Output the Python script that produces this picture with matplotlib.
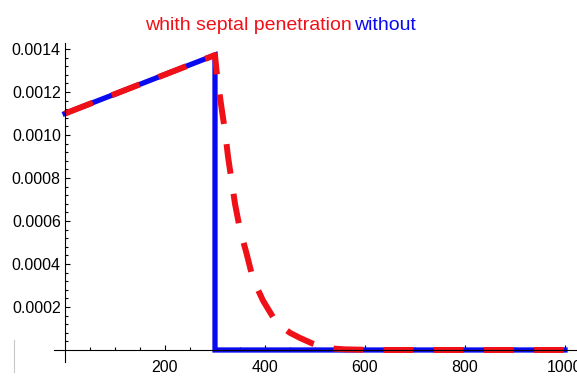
import matplotlib
matplotlib.use('Agg')
import matplotlib.pyplot as plt
from matplotlib.lines import Line2D
from matplotlib.ticker import FixedLocator

plt.rcParams['font.family'] = ['Liberation Sans', 'DejaVu Sans']

# "without" curve: linear rise, sharp cut at 300
x_without = [0, 300, 300, 1000]
y_without = [0.00110, 0.001372, 0.0, 0.0]

# "whith septal penetration" curve: same rise, smooth tail after 300
x_with = [0, 300, 303, 307, 311, 316, 320, 326, 333, 340, 350, 363, 376,
          396, 423, 450, 470, 495, 516, 540, 560, 620, 700, 800, 900, 1000]
y_with = [0.00110, 0.001372, 0.00130, 0.00123, 0.00116, 0.00108, 0.00102,
          0.00090, 0.00079, 0.00068, 0.00056, 0.00045, 0.00033, 0.00023,
          0.000126, 0.000080, 0.000056, 0.000030, 0.000014, 0.000006,
          0.000003, 0.0, 0.0, 0.0, 0.0, 0.0]

x_ticks = [200, 400, 600, 800, 1000]
x_tick_labels = ['200', '400', '600', '800', '1000']
y_ticks = [0.0002, 0.0004, 0.0006, 0.0008, 0.0010, 0.0012, 0.0014]
y_tick_labels = ['0.0002', '0.0004', '0.0006', '0.0008', '0.0010', '0.0012', '0.0014']

fig = plt.figure(figsize=(5.77, 3.77), dpi=100)
ax = fig.add_axes([0, 0, 1, 1])
ax.set_xlim(-130, 1024)
ax.set_ylim(-0.0001256, 0.001628)

ax.plot(x_without, y_without, color='#0a0af0', lw=3.8, solid_joinstyle='miter')
ax.plot(x_with, y_with, color='#f01018', lw=4.3, dashes=(5.0, 3.4))

for s in ['top', 'right']:
    ax.spines[s].set_visible(False)
ax.spines['left'].set_position(('data', 0))
ax.spines['bottom'].set_position(('data', 0))
ax.spines['left'].set_bounds(-0.000056, 0.00143)
ax.spines['bottom'].set_bounds(-22, 1024)
for s in ['left', 'bottom']:
    ax.spines[s].set_linewidth(0.8)

ax.set_xticks(x_ticks)
ax.set_xticklabels(x_tick_labels)
ax.set_yticks(y_ticks)
ax.set_yticklabels(y_tick_labels)
ax.xaxis.set_minor_locator(FixedLocator(list(range(50, 1001, 50))))
ax.yaxis.set_minor_locator(FixedLocator([i * 0.00004 for i in range(1, 36)]))
ax.tick_params(which='both', direction='in', width=0.8, labelsize=11.5)
ax.tick_params(which='major', length=3.8)
ax.tick_params(which='minor', length=2.0)
ax.tick_params(axis='x', pad=7)
ax.tick_params(axis='y', pad=3)

fig.text(145 / 577, 1 - 29.5 / 377, 'whith septal penetration', color='#f01018',
         fontsize=14, va='baseline', ha='left')
fig.text(354 / 577, 1 - 29.5 / 377, 'without', color='#0a0af0',
         fontsize=14, va='baseline', ha='left')

# faint stray mark at lower left
fig.add_artist(Line2D([14 / 577, 14 / 577], [1 - 340 / 377, 1 - 372 / 377],
                      color='#c8c8c8', lw=0.8))

fig.savefig('out.png', dpi=100)
